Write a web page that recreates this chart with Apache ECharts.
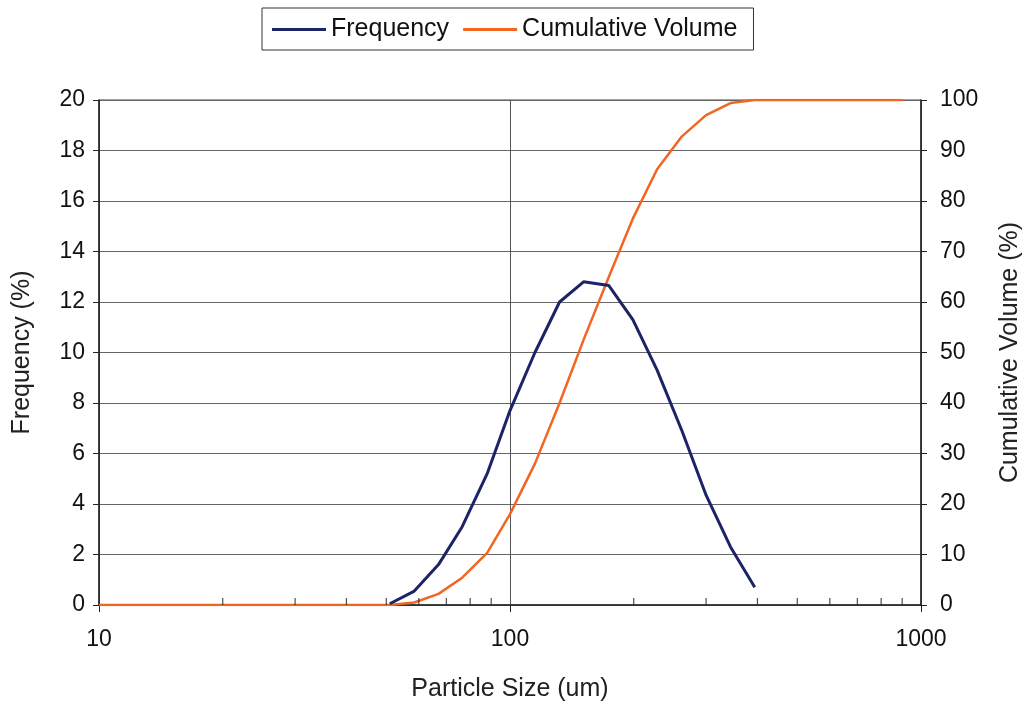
<!DOCTYPE html>
<html>
<head>
<meta charset="utf-8">
<script src="https://cdn.jsdelivr.net/npm/echarts@6/dist/echarts.min.js"></script>
<style>
html,body{margin:0;padding:0;background:#fff;}
#chart{width:1026px;height:707px;}
</style>
</head>
<body>
<div id="chart"></div>
<script>
// Particle sizes (um) of the measured size classes
var sizes = [51, 58.5, 67, 76.5, 88, 100, 115, 132, 151, 174, 199, 228, 262, 300, 344, 394];
// Frequency (%) per size class
var frequency = [0.05, 0.55, 1.6, 3.1, 5.2, 7.7, 10.0, 12.0, 12.8, 12.65, 11.3, 9.3, 6.9, 4.35, 2.3, 0.7];
// Cumulative volume (%) – leading and trailing plateau points
var cumSizes = [10, 51, 58.5, 67, 76.5, 88, 100, 115, 132, 151, 174, 199, 228, 262, 300, 344, 394, 903];
var cumulative = [0, 0, 0.5, 2.2, 5.4, 10.3, 18, 28, 40, 52.5, 65, 76.5, 86.3, 92.8, 97, 99.4, 100, 100];
// Minor tick positions on the log x axis
var minorTicks = [20, 30, 40, 50, 60, 70, 80, 90, 200, 300, 400, 500, 600, 700, 800, 900];
var seriesNames = ['Frequency', 'Cumulative Volume'];

var freqData = sizes.map(function (s, i) { return [s, frequency[i]]; });
var cumData = cumSizes.map(function (s, i) { return [s, cumulative[i]]; });
var tickData = minorTicks.map(function (s) { return [s, 0]; });

var font = 'Liberation Sans, Arial, sans-serif';
var chart = echarts.init(document.getElementById('chart'), null, {renderer: 'canvas'});
chart.setOption({
  animation: false,
  backgroundColor: '#fff',
  textStyle: {fontFamily: font},
  legend: {
    data: seriesNames,
    top: 8,
    left: 262,
    icon: 'rect',
    itemWidth: 54,
    itemHeight: 3,
    itemGap: 14,
    padding: [9, 16, 8, 10],
    borderColor: '#333',
    borderWidth: 1,
    borderRadius: 0,
    textStyle: {fontFamily: font, fontSize: 25, color: '#111', padding: [0, 0, 0, 0]}
  },
  grid: {
    left: 99, right: 105, top: 100, bottom: 102,
    outerBoundsMode: 'none',
    containLabel: false,
    show: true, borderColor: '#444', borderWidth: 1, backgroundColor: 'transparent'
  },
  xAxis: {
    type: 'log',
    logBase: 10,
    min: 10,
    max: 1000,
    name: 'Particle Size (um)',
    nameLocation: 'middle',
    nameGap: 72,
    nameTextStyle: {fontFamily: font, fontSize: 25, color: '#222'},
    axisLine: {show: true, onZero: false, lineStyle: {color: '#222', width: 1.5}},
    axisTick: {show: true, length: 7, lineStyle: {color: '#222', width: 1}},
    axisLabel: {fontFamily: font, fontSize: 23, color: '#111', margin: 23,
      formatter: function (v) { return String(Math.round(v)); }},
    splitLine: {show: true, lineStyle: {color: '#555', width: 1}}
  },
  yAxis: [
    {
      type: 'value',
      min: 0, max: 20, interval: 2,
      name: 'Frequency (%)',
      nameLocation: 'middle',
      nameGap: 64,
      nameTextStyle: {fontFamily: font, fontSize: 25, color: '#222'},
      axisLine: {show: true, lineStyle: {color: '#222', width: 1.5}},
      axisTick: {show: true, length: 6, lineStyle: {color: '#222'}},
      axisLabel: {fontFamily: font, fontSize: 23, color: '#111', margin: 14},
      splitLine: {show: true, lineStyle: {color: '#666', width: 1}}
    },
    {
      type: 'value',
      min: 0, max: 100, interval: 10,
      name: 'Cumulative Volume (%)',
      nameLocation: 'middle',
      nameGap: 77,
      nameRotate: 90,
      nameTextStyle: {fontFamily: font, fontSize: 25, color: '#222'},
      axisLine: {show: true, lineStyle: {color: '#222', width: 1.5}},
      axisTick: {show: true, length: 6, lineStyle: {color: '#222'}},
      axisLabel: {fontFamily: font, fontSize: 23, color: '#111', margin: 19},
      splitLine: {show: false}
    }
  ],
  series: [
    {
      name: seriesNames[1],
      type: 'line',
      yAxisIndex: 1,
      data: cumData,
      symbol: 'none',
      color: '#f26522',
      lineStyle: {color: '#f26522', width: 2.5},
      z: 3
    },
    {
      name: seriesNames[0],
      type: 'line',
      yAxisIndex: 0,
      data: freqData,
      symbol: 'none',
      color: '#1c2466',
      lineStyle: {color: '#1c2466', width: 3},
      z: 4
    },
    {
      name: 'minorTicks',
      type: 'scatter',
      yAxisIndex: 0,
      data: tickData,
      symbol: 'rect',
      symbolSize: [1.2, 7],
      symbolOffset: [0, -3.5],
      itemStyle: {color: '#222'},
      silent: true,
      z: 5
    }
  ]
});
</script>
</body>
</html>
